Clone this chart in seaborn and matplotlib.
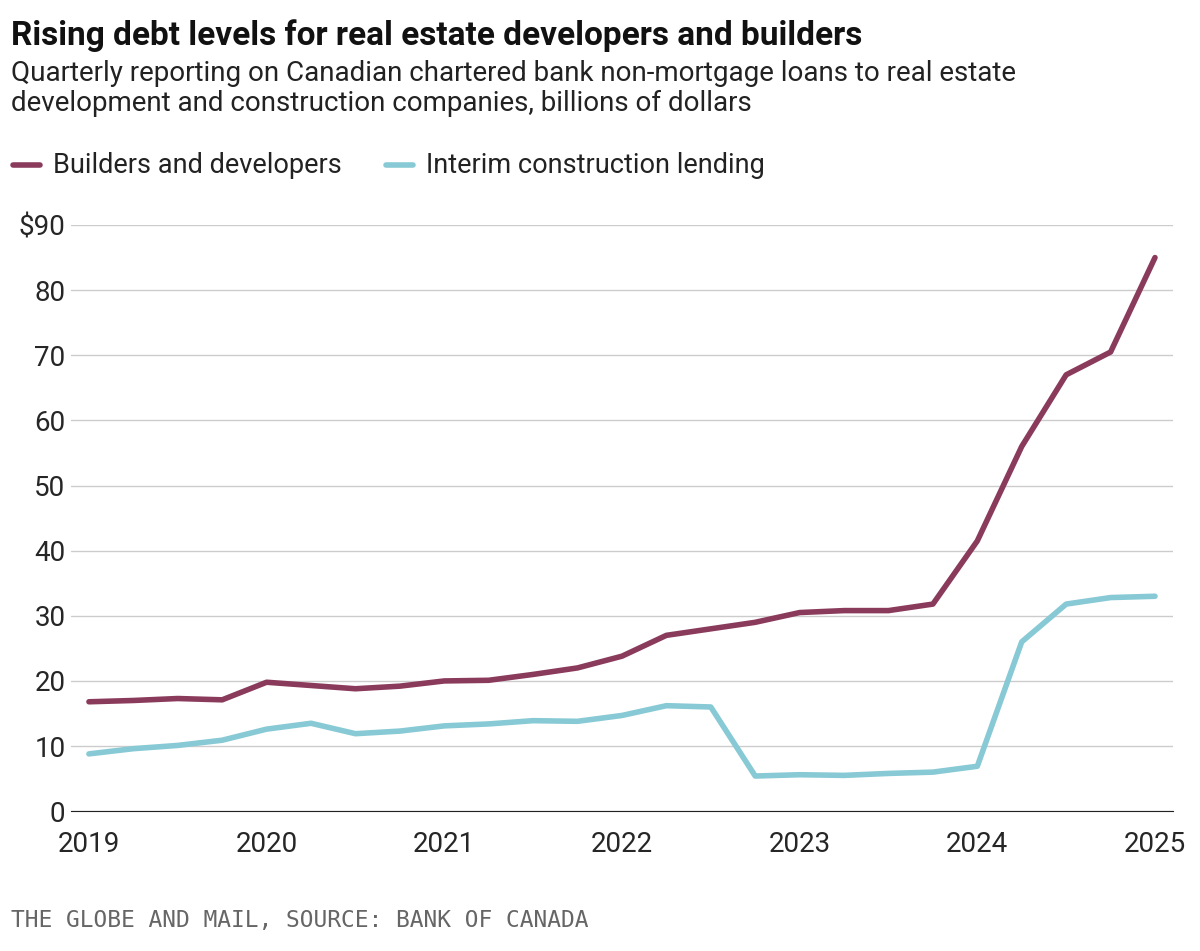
import numpy as np
import pandas as pd
import matplotlib.pyplot as plt
import seaborn as sns

# quarterly values, 2019Q1 .. 2025Q1
quarters = np.arange(2019, 2025.01, 0.25)
builders = [16.8, 17.0, 17.3, 17.1, 19.8, 19.3, 18.8, 19.2, 20.0, 20.1, 21.0, 22.0,
            23.8, 27.0, 28.0, 29.0, 30.5, 30.8, 30.8, 31.8, 41.5, 56.0, 67.0, 70.5, 85.0]
interim = [8.8, 9.6, 10.1, 10.9, 12.6, 13.5, 11.9, 12.3, 13.1, 13.4, 13.9, 13.8,
           14.7, 16.2, 16.0, 5.4, 5.6, 5.5, 5.8, 6.0, 6.9, 26.0, 31.8, 32.8, 33.0]
series_names = ['Builders and developers', 'Interim construction lending']
colors = ['#8a3b5c', '#87c9d4']

df = pd.DataFrame({'quarter': np.tile(quarters, 2),
                   'value': builders + interim,
                   'series': np.repeat(series_names, len(quarters))})

sns.set_style('white')
plt.rcParams['font.family'] = ['Roboto', 'DejaVu Sans']

fig = plt.figure(figsize=(12, 9.51), dpi=100)
ax = fig.add_axes([0.0593, 0.147, 0.918, 0.6164])
sns.lineplot(data=df, x='quarter', y='value', hue='series', palette=colors,
             linewidth=4, ax=ax, legend=False)

ax.set_xlim(2018.9, 2025.1)
ax.set_ylim(0, 90)
ax.set_yticks(range(0, 91, 10))
ax.set_yticklabels(['0'] + [str(v) for v in range(10, 90, 10)] + ['$90'])
ax.set_xticks(range(2019, 2026))
ax.grid(axis='y', color='#cccccc', linewidth=1)
ax.set_axisbelow(True)
for s in ['top', 'right', 'left']:
    ax.spines[s].set_visible(False)
ax.spines['bottom'].set_color('#222222')
ax.tick_params(axis='x', length=8, width=1, color='#222222', labelsize=20, pad=6)
ax.tick_params(axis='y', length=0, labelsize=20, pad=4)
ax.set_xlabel('')
ax.set_ylabel('')

fig.text(0.009, 0.953, 'Rising debt levels for real estate developers and builders',
         fontsize=24, fontweight='bold', color='#111111')
fig.text(0.009, 0.883, 'Quarterly reporting on Canadian chartered bank non-mortgage loans to real estate\n'
         'development and construction companies, billions of dollars',
         fontsize=20, color='#222222', linespacing=1.15)

# legend
fig.lines.append(plt.Line2D([0.011, 0.033], [0.826, 0.826], color=colors[0], lw=4, transform=fig.transFigure))
fig.text(0.044, 0.826, series_names[0], fontsize=19.5, va='center', color='#222222')
fig.lines.append(plt.Line2D([0.322, 0.344], [0.826, 0.826], color=colors[1], lw=4, transform=fig.transFigure))
fig.text(0.355, 0.826, series_names[1], fontsize=19.5, va='center', color='#222222')

fig.text(0.009, 0.025, 'THE GLOBE AND MAIL, SOURCE: BANK OF CANADA',
         fontsize=16.5, color='#666666', family=['DejaVu Sans Mono'])

fig.savefig('out.png', dpi=100)
